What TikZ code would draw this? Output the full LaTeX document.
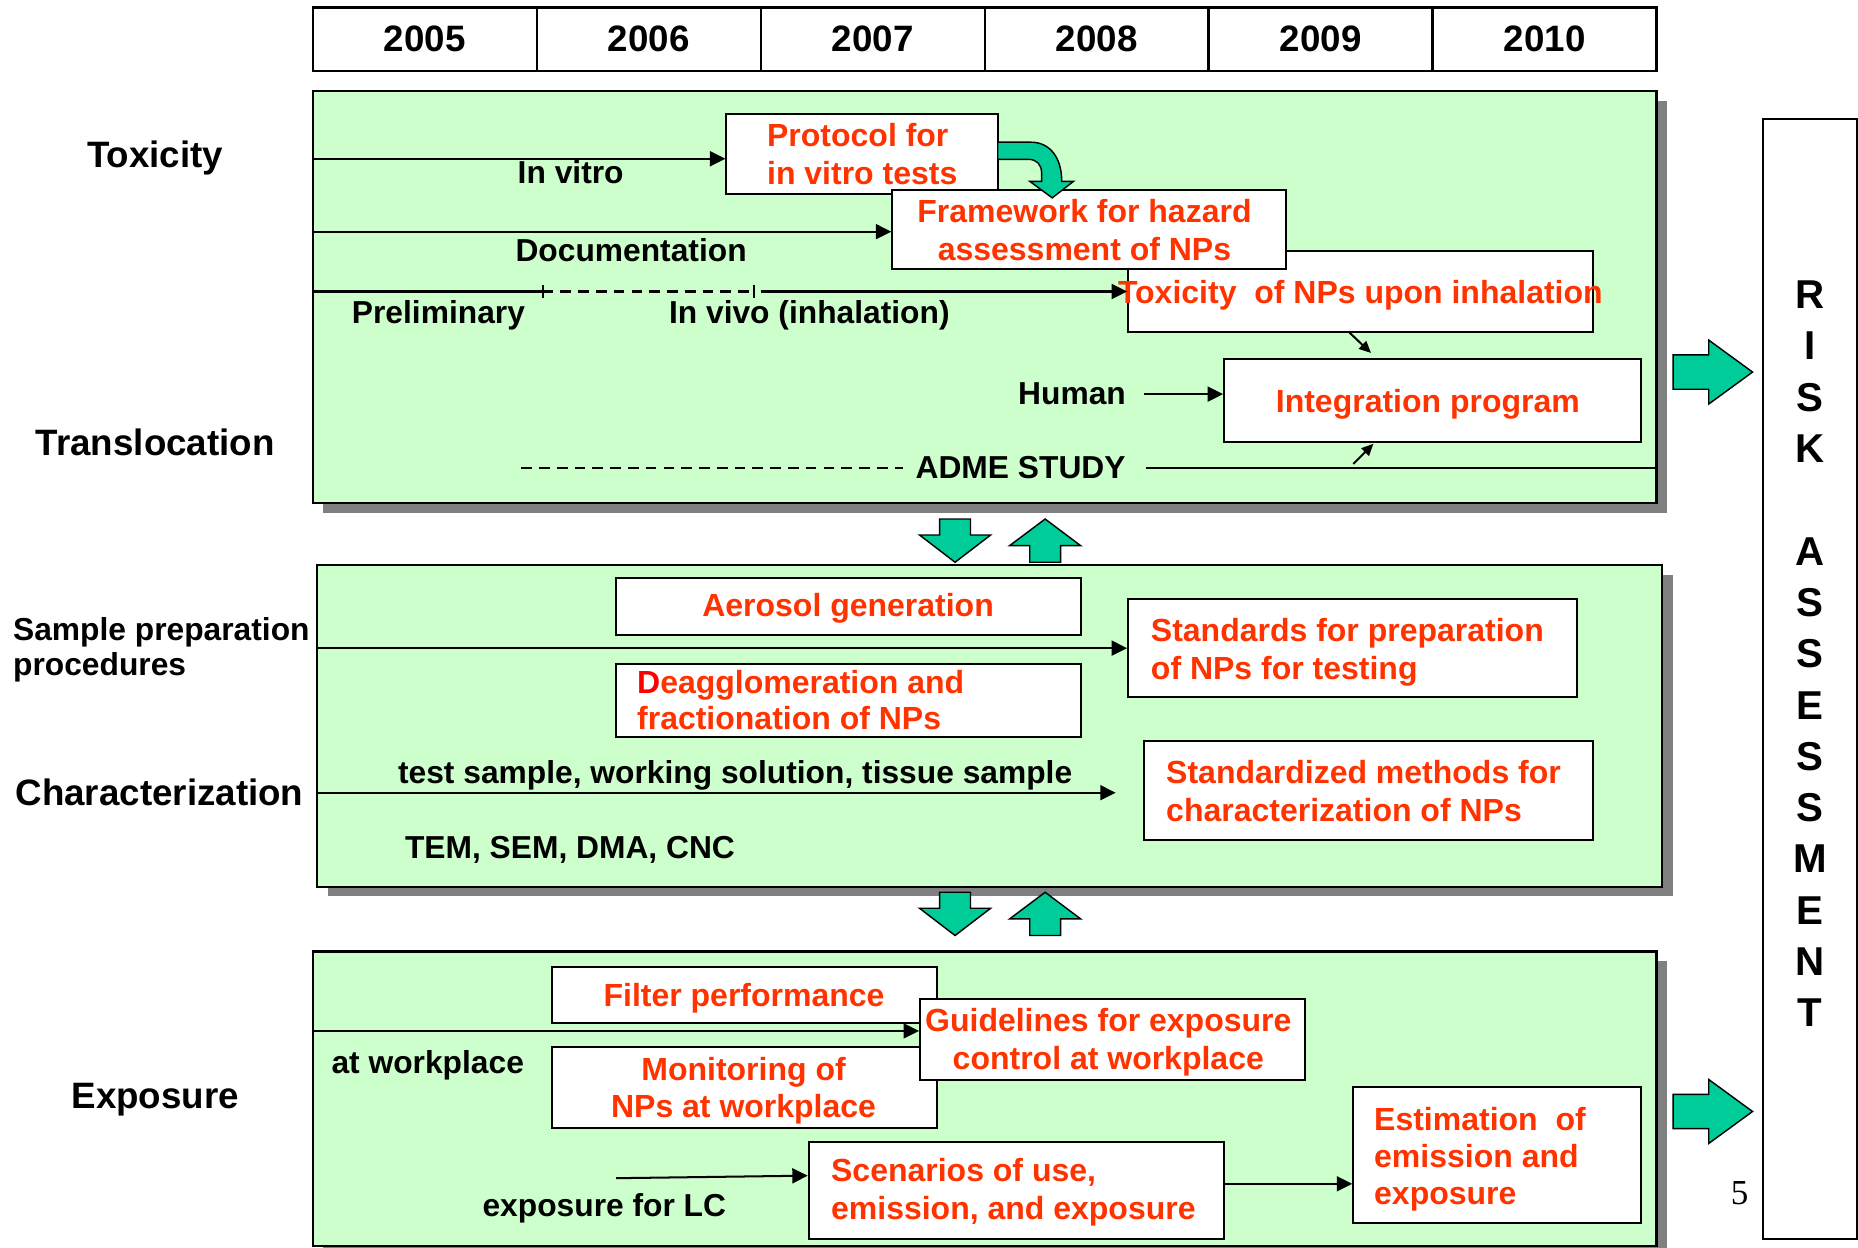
\documentclass[tikz,border=0pt]{standalone}
\usepackage{fontspec}
\setmainfont{Liberation Sans}
\newfontfamily\pagenumfont{Liberation Serif}
\usetikzlibrary{arrows.meta,fit,shadows,calc}
\definecolor{panelgreen}{HTML}{CCFFCC}
\definecolor{arrowgreen}{HTML}{00CC99}
\definecolor{nred}{HTML}{FF3300}
\definecolor{pured}{HTML}{FF0000}
\definecolor{shadegrey}{HTML}{808080}
\tikzset{
  panel/.style={draw, line width=1pt, fill=panelgreen, inner sep=0pt,
    drop shadow={shadow xshift=4.5pt, shadow yshift=-4pt, fill=shadegrey, opacity=1}},
  wbox/.style={draw, fill=white, line width=0.85pt, inner sep=0pt},
  yearcell/.style={draw, line width=1pt, minimum width=94.5pt, minimum height=26.7pt,
    inner sep=0pt, font=\fontsize{15.5}{18}\selectfont\bfseries},
  rtxt/.style={text=nred, align=left, inner sep=0pt, font=\fontsize{13.5}{16}\selectfont\bfseries},
  ltxt/.style={inner sep=0pt, align=left, font=\fontsize{13.4}{16}\selectfont\bfseries},
  side/.style={inner sep=0pt, font=\fontsize{15.5}{18}\selectfont\bfseries},
  riskl/.style={inner sep=0pt, font=\fontsize{17}{20}\selectfont\bfseries},
  tline/.style={line width=0.85pt},
  dline/.style={line width=0.85pt, dash pattern=on 4.5pt off 3pt},
  arr/.style={-{Triangle[length=6.5pt,width=6.3pt]}, line width=0.85pt},
  sarr/.style={-{Triangle[length=5pt,width=4.5pt]}, line width=0.85pt},
  garr/.style={fill=arrowgreen, draw=black, line width=0.6pt, line join=miter}
}
\newcommand{\godown}[1]{\draw[garr] (#1) ++(-13,0) -- ++(26,0) -- ++(0,13.5) -- ++(17,0) -- ++(-30,23) -- ++(-30,-23) -- ++(17,0) -- cycle;}
\newcommand{\goup}[1]{\draw[garr] (#1) -- ++(30,22.5) -- ++(-17,0) -- ++(0,14) -- ++(-26,0) -- ++(0,-14) -- ++(-17,0) -- cycle;}
\newcommand{\goright}[1]{\draw[garr] (#1) ++(0,-14.5) -- ++(30,0) -- ++(0,-12.5) -- ++(37,27) -- ++(-37,27) -- ++(0,-12.5) -- ++(-30,0) -- cycle;}

\begin{document}
\begin{tikzpicture}[x=0.5pt,y=-0.5pt]
\useasboundingbox (0,0) rectangle (1568,1053);

% years
\foreach \yr [count=\i from 0] in {2005,...,2010}
  \node[yearcell] (y\yr) at (358.5+189*\i,33) {\yr};

% panels
\node[panel, fit={(264,77) (1398,424.7)}] (toxpanel) {};
\node[panel, fit={(267.6,477) (1402.5,748.5)}] (prppanel) {};
\node[panel, fit={(264,803) (1398,1051.5)}] (exppanel) {};

% row labels
\node[side] (ltox) at (131,133) {Toxicity};
\node[side] (ltrans) at (131,373) {Translocation};
\node[ltxt, anchor=west, font=\fontsize{13.4}{14.75}\selectfont\bfseries] (lsamp) at (10.7,548) {Sample preparation\\procedures};
\node[side] (lchar) at (134.6,668.8) {Characterization};
\node[side] (lexp) at (131,928) {Exposure};

% toxicity
\node[wbox, fit={(613,96) (842,164)}] (proto) {};
\node[wbox, fit={(952,211.5) (1344,280)}] (toxbox) {};
\node[wbox, fit={(753,160) (1085,227)}] (frame) {};
\node[wbox, fit={(1033,303) (1385,372.7)}] (integ) {};
\node[rtxt, anchor=west] (proto-t) at (647,130.2) {Protocol for\\in vitro tests};
\node[rtxt, align=center] (frame-t) at (915.2,194.4) {Framework for hazard\\assessment of NPs};
\node[rtxt] (toxbox-t) at (1148,249) {Toxicity\ \ of NPs upon inhalation};
\node[rtxt] (integ-t) at (1205,341.2) {Integration program};
\draw[garr] (842,120) -- (870,120) .. controls (886,120) and (896,133) .. (896,153) -- (906,153) -- (888,167) -- (869,153) -- (879,153) -- (879,146) .. controls (879,139) and (875,134.5) .. (868,134.5) -- (842,134.5) -- cycle;

\coordinate (vitro) at (264,134);
\draw[arr] (vitro) -- (vitro -| proto.west);
\node[ltxt] (vitro-l) at (481.6,144.9) {In vitro};
\coordinate (docu) at (264,195.5);
\draw[arr] (docu) -- (docu -| frame.west);
\node[ltxt] (docu-l) at (532.6,211.3) {Documentation};
\coordinate (prel) at (264,246);
\coordinate (tick1) at (458,246);
\coordinate (tick2) at (636,246);
\draw[tline] (prel) -- (tick1);
\draw[dline] (tick1) -- (tick2);
\draw[arr] ($(tick2)+(6,0)$) -- (tick2 -| toxbox.west);
\foreach \t in {tick1,tick2}
  \draw[tline] ($(\t)+(0,-5.5)$) -- ($(\t)+(0,5.5)$);
\node[ltxt] (prel-l) at (370,266.5) {Preliminary};
\node[ltxt] (vivo-l) at (683,265.8) {In vivo (inhalation)};
\draw[sarr] ($(toxbox.south)+(-9,0)$) -- ++(18,17);

\node[ltxt] (human) at (904.7,332.6) {Human};
\draw[arr] ($(human.east)+(15,0)$) -- (human.east -| integ.west);
\node[ltxt] (adme) at (861.3,394.5) {ADME STUDY};
\coordinate (adme0) at (440,395);
\draw[dline] (adme0) -- ($(adme.west |- adme0)+(-10,0)$);
\draw[tline] ($(adme.east |- adme0)+(17,0)$) -- (adme0 -| toxpanel.east);
\draw[sarr] ($(integ.south)+(-67,18)$) -- ++(17,-17);

% sample preparation and characterization
\node[wbox, fit={(520,488) (912,536)}] (aero) {};
\node[wbox, fit={(520,560) (912,621.7)}] (deag) {};
\node[wbox, fit={(952,505.6) (1331,588)}] (stand) {};
\node[wbox, fit={(965.4,625.4) (1344,709)}] (stdz) {};
\node[rtxt] (aero-t) at (715.7,513.4) {Aerosol generation};
\node[rtxt, anchor=west, font=\fontsize{13.5}{15.5}\selectfont\bfseries] (deag-t) at (537.3,590.7) {{\color{pured}D}eagglomeration and\\fractionation of NPs};
\node[rtxt, anchor=west] (stand-t) at (970.9,550.6) {Standards for preparation\\of NPs for testing};
\node[rtxt, anchor=west] (stdz-t) at (983.8,667.4) {Standardized methods for\\characterization of NPs};
\coordinate (samp) at (267.6,547);
\draw[arr] (samp) -- (samp -| stand.west);
\coordinate (charl) at (267.6,669);
\draw[arr] (charl) -- ($(charl -| stdz.west)+(-23,0)$);
\node[ltxt] (samples) at (620.4,654) {test sample, working solution, tissue sample};
\node[ltxt, anchor=west] (tem) at (341.4,717.5) {TEM, SEM, DMA, CNC};

% exposure
\node[wbox, fit={(466,816) (790.5,863)}] (filt) {};
\node[wbox, fit={(466,883.6) (790.5,951.6)}] (mon) {};
\node[wbox, fit={(776.4,843) (1101,911.4)}] (guide) {};
\node[wbox, fit={(682.5,963.5) (1033,1045.6)}] (scen) {};
\node[wbox, fit={(1142,917.5) (1385,1032)}] (est) {};
\node[rtxt] (filt-t) at (627.9,842.5) {Filter performance};
\node[rtxt, align=center] (mon-t) at (627.5,920.5) {Monitoring of\\NPs at workplace};
\node[rtxt, align=center] (guide-t) at (935.3,879.8) {Guidelines for exposure\\control at workplace};
\node[rtxt, anchor=west] (scen-t) at (701,1006.4) {Scenarios of use,\\emission, and exposure};
\node[rtxt, anchor=west, font=\fontsize{13.5}{15.8}\selectfont\bfseries] (est-t) at (1159.3,978.3) {Estimation\ \ of\\emission and\\exposure};
\coordinate (work) at (264,870);
\draw[arr] (work) -- (work -| guide.west);
\node[ltxt] (work-l) at (361,898.7) {at workplace};
\node[ltxt] (lc-l) at (510,1019.7) {exposure for LC};
\coordinate (lc) at (520,994.3);
\draw[arr] (lc) -- ($(scen.west)+(0,-12.4)$);
\draw[arr] ($(scen.east)+(0,-5.5)$) -- ($(scen.east -| est.west)+(0,-5.5)$);

% between panels
\foreach \yy [count=\k] in {438,753} {
  \coordinate (dn\k) at (806,\yy);
  \coordinate (up\k) at (882,\yy);
  \godown{dn\k}
  \goup{up\k}
}

% risk assessment
\node[wbox, fit={(1487.5,100.4) (1567,1045.6)}] (risk) {};
\foreach \ch [count=\i from 0] in {R,I,S,K,{},A,S,S,E,S,S,M,E,N,T}
  \node[riskl] (risk\i) at (1527.5,248.7+43.3*\i) {\ch};
\coordinate (torisk1) at (1412,314);
\coordinate (torisk2) at (1412,938);
\goright{torisk1}
\goright{torisk2}
\node[inner sep=0pt, font=\pagenumfont\fontsize{14.8}{17}\selectfont] (pnum) at (1468,1007) {5};

\end{tikzpicture}
\end{document}
